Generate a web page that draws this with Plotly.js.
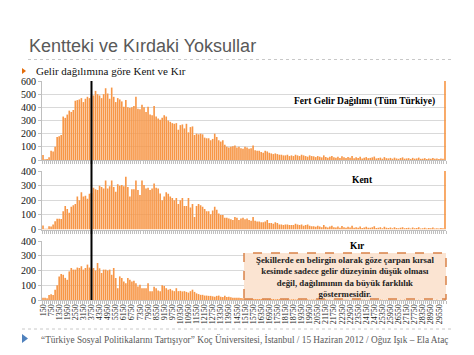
<!DOCTYPE html>
<html>
<head>
<meta charset="utf-8">
<script src="https://cdn.plot.ly/plotly-3.0.1.min.js"></script>
<style>html,body{margin:0;padding:0;background:#fff;}#chart{width:474px;height:355px;}</style>
</head>
<body>
<div id="chart"></div>
<script>
// Tick labels on the income axis (every 4th bin)
const tickLabels = ["150","750","1350","1950","2550","3150","3750","4350","4950","5550","6150","6750","7350","7950","8550","9150","9750","10350","10950","11550","12150","12750","13350","13950","14550","15150","15750","16350","16950","17550","18150","18750","19350","19950","20550","21150","21750","22350","22950","23550","24150","24750","25350","25950","26550","27150","27750","28350","28950","29550"];

// Frequencies per income bin (bin width 150), Tüm Türkiye
const turkiye = [
 38,5,8,20,70,65,100,175,180,190,
 330,320,345,375,365,380,450,455,460,470,
 440,465,480,470,490,490,525,500,490,470,
 500,545,505,465,550,480,440,470,460,445,
 405,455,400,395,400,410,480,390,385,420,
 400,365,405,345,340,410,330,315,305,320,
 340,330,300,290,280,275,280,230,265,270,
 240,275,210,250,255,190,200,195,200,195,
 170,165,165,150,160,200,175,150,140,150,
 115,100,95,100,105,110,95,100,90,85,
 100,95,85,90,110,75,70,70,60,55,
 70,65,55,50,45,50,45,40,40,35,
 35,40,30,35,30,40,35,30,40,35,
 30,25,35,30,28,22,30,25,20,35,
 22,18,25,30,20,18,24,15,28,20,
 16,22,18,30,14,20,16,25,12,18,
 22,14,16,20,26,12,15,18,10,22,
 14,12,16,10,18,12,9,15,20,10,
 12,14,8,16,10,12,18,9,10,14,
 8,12,10,16,9,11,8,12,10,600];

// Kent
const kent = [
 27,5,5,22,20,34,56,74,74,72,
 124,160,140,115,155,165,175,225,200,255,
 225,230,210,245,250,285,275,270,300,290,
 280,335,280,295,335,290,258,310,300,305,
 295,360,290,225,275,275,335,270,236,335,
 305,280,285,270,280,315,285,281,247,200,
 225,255,245,225,215,200,215,175,200,215,
 160,160,215,150,175,85,160,175,165,155,
 140,125,125,105,130,155,135,110,100,100,
 80,80,75,70,65,85,80,65,75,80,
 70,75,65,60,85,60,55,55,50,50,
 55,65,45,45,40,50,45,35,35,30,
 35,35,30,30,30,40,35,30,35,25,
 30,35,25,22,22,18,25,20,15,30,
 18,14,20,25,16,14,20,12,24,16,
 12,18,14,25,12,16,12,20,10,14,
 18,12,12,16,22,10,12,15,8,18,
 12,10,13,8,15,10,8,12,16,8,
 10,12,6,13,8,10,15,7,8,12,
 6,10,8,13,7,9,6,10,8,400];

// Kır
const kir = [
 16,16,12,34,39,34,69,100,160,176,
 171,150,137,194,217,206,206,220,217,229,
 206,217,240,220,210,217,200,251,215,183,
 206,206,200,206,171,217,149,80,160,149,
 126,114,149,137,126,130,114,91,103,80,
 80,80,114,60,60,90,80,65,60,100,
 95,80,70,75,65,60,80,60,62,58,
 60,55,50,60,70,55,45,40,35,35,
 30,30,28,28,25,22,28,30,22,20,
 28,20,22,18,16,16,15,16,14,12,
 10,12,9,11,8,10,9,7,8,9,
 6,8,7,6,8,5,7,6,5,6,
 5,7,4,5,6,4,5,4,5,3,
 4,5,3,4,4,3,5,3,4,3,
 5,3,4,2,3,4,3,5,2,3,
 4,3,2,4,3,3,5,2,3,4,
 2,3,4,2,3,3,2,4,3,2,
 3,2,4,3,2,3,2,3,2,4,
 2,3,2,2,3,2,3,2,2,3,
 2,2,3,2,2,3,2,2,2,85];

const panelLabels = ["Fert Gelir Dağılımı (Tüm Türkiye)", "Kent", "Kır"];
const povertyLine = 3750;

// income bins (bin starts, width 150)
const incomeBins = [];
for (let i = 0; i < turkiye.length; i++) incomeBins.push(150 * (i + 1));

const W = 474, H = 355;
const px = v => v / W;
const py = v => 1 - v / H;

const barColor = '#F79646';
const serif = 'Liberation Serif, Times New Roman, serif';
const sans = 'Liberation Sans, Arial, sans-serif';

function bars(y, xa, ya) {
  return {type: 'bar', x: incomeBins, y: y, xaxis: xa, yaxis: ya,
    marker: {color: barColor, line: {width: 0}}, hoverinfo: 'skip'};
}

const data = [bars(turkiye, 'x', 'y'), bars(kent, 'x2', 'y2'), bars(kir, 'x3', 'y3')];

const xdom = [px(42), px(446)];
const xrange = [75, 30075];
const gridc = '#d9d9d9', axc = '#bfbfbf';

function xax(anchor, labels) {
  const a = {domain: xdom, range: xrange, anchor: anchor, showgrid: false, zeroline: false,
    showline: true, linecolor: axc, linewidth: 1, fixedrange: true};
  if (labels) {
    a.tickmode = 'array';
    a.tickvals = tickLabels.map(Number);
    a.ticktext = tickLabels;
    a.tickangle = -90;
    a.ticks = '';
    a.tickfont = {family: serif, size: 8, color: '#222'};
    a.minor = {tickmode: 'linear', tick0: 75, dtick: 150, ticks: 'outside', ticklen: 3, tickcolor: axc, tickwidth: 1};
  } else {
    a.tickmode = 'linear'; a.tick0 = 75; a.dtick = 150;
    a.ticks = 'outside'; a.ticklen = 3; a.tickcolor = axc; a.showticklabels = false;
  }
  return a;
}
function yax(anchor, top, bottom, max) {
  return {domain: [py(bottom), py(top)], range: [0, max], anchor: anchor, dtick: 100,
    showgrid: true, gridcolor: gridc, gridwidth: 1, zeroline: false,
    showline: true, linecolor: axc, ticks: 'outside', ticklen: 3, tickcolor: axc,
    tickfont: {family: serif, size: 10, color: '#111'}, fixedrange: true};
}

const layout = {
  width: W, height: H, margin: {l: 0, r: 0, t: 0, b: 0},
  paper_bgcolor: '#fff', plot_bgcolor: 'rgba(0,0,0,0)',
  showlegend: false, bargap: 0.2,
  xaxis: xax('y', false), yaxis: yax('x', 81, 160, 600),
  xaxis2: xax('y2', false), yaxis2: yax('x2', 171, 229.5, 400),
  xaxis3: xax('y3', true), yaxis3: yax('x3', 241, 300, 400),
  shapes: [
    {type: 'line', xref: 'x', yref: 'paper', x0: povertyLine, x1: povertyLine, y0: py(300), y1: py(81), line: {color: '#000', width: 2}},
    {type: 'line', xref: 'paper', yref: 'paper', x0: px(28), x1: px(452), y0: py(59.5), y1: py(59.5), line: {color: '#c8c8c8', width: 1, dash: 'dot'}},
    {type: 'line', xref: 'paper', yref: 'paper', x0: px(22), x1: px(452), y0: py(329), y1: py(329), line: {color: '#c8c8c8', width: 1, dash: 'dot'}},
    {type: 'path', xref: 'paper', yref: 'paper', path: `M ${px(22)},${py(68)} L ${px(26)},${py(71)} L ${px(22)},${py(74)} Z`, fillcolor: '#E46C0A', line: {width: 0}},
    {type: 'path', xref: 'paper', yref: 'paper', path: `M ${px(22)},${py(334)} L ${px(28)},${py(338.5)} L ${px(22)},${py(343)} Z`, fillcolor: '#4F81BD', line: {width: 0}},
    {type: 'rect', xref: 'paper', yref: 'paper', x0: px(244), x1: px(446), y0: py(299), y1: py(253), fillcolor: '#FBE4D2', line: {color: '#D9824A', width: 1.5, dash: 'dash'}, layer: 'above'}
  ],
  annotations: [
    {xref: 'paper', yref: 'paper', x: px(27), y: py(46), xanchor: 'left', yanchor: 'middle', showarrow: false,
     text: 'Kentteki ve Kırdaki Yoksullar', font: {family: sans, size: 18, color: '#595959'}},
    {xref: 'paper', yref: 'paper', x: px(34), y: py(71), xanchor: 'left', yanchor: 'middle', showarrow: false,
     text: 'Gelir dağılımına göre Kent ve Kır', font: {family: serif, size: 11, color: '#111'}},
    {xref: 'paper', yref: 'paper', x: px(437), y: py(101), xanchor: 'right', yanchor: 'middle', showarrow: false,
     text: '<b>' + panelLabels[0] + '</b>', font: {family: serif, size: 9.5, color: '#000'}},
    {xref: 'paper', yref: 'paper', x: px(362), y: py(180), xanchor: 'center', yanchor: 'middle', showarrow: false,
     text: '<b>' + panelLabels[1] + '</b>', font: {family: serif, size: 9.5, color: '#000'}},
    {xref: 'paper', yref: 'paper', x: px(357), y: py(246), xanchor: 'center', yanchor: 'middle', showarrow: false,
     text: '<b>' + panelLabels[2] + '</b>', font: {family: serif, size: 9.5, color: '#000'}},
    {xref: 'paper', yref: 'paper', x: px(345), y: py(276.5), xanchor: 'center', yanchor: 'middle', showarrow: false,
     text: '<b>Şekillerde en belirgin olarak göze çarpan kırsal<br>kesimde sadece gelir düzeyinin düşük olması<br>değil, dağılımının da büyük farklılık<br>göstermesidir.</b>',
     font: {family: serif, size: 8.8, color: '#222'}, align: 'center'},
    {xref: 'paper', yref: 'paper', x: px(39), y: py(339), xanchor: 'left', yanchor: 'middle', showarrow: false,
     text: '“Türkiye Sosyal Politikalarını Tartışıyor” Koç Üniversitesi, İstanbul / 15 Haziran 2012 / Oğuz Işık – Ela Ataç',
     font: {family: serif, size: 9.3, color: '#595959'}}
  ]
};

Plotly.newPlot('chart', data, layout, {staticPlot: true, displayModeBar: false});
</script>
</body>
</html>
